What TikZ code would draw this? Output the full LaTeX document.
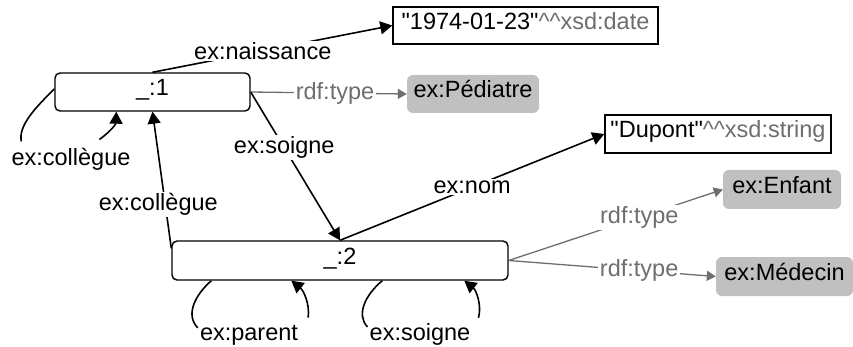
\documentclass[tikz,border=0pt]{standalone}
\usepackage{fontspec}
\newfontfamily\lsans{Liberation Sans}
\usetikzlibrary{arrows.meta,calc}
\definecolor{edgegray}{RGB}{110,110,110}
\definecolor{classfill}{RGB}{192,192,192}
\begin{document}
\begin{tikzpicture}[x=1pt,y=-1pt,
  font=\lsans\fontsize{23.5}{28}\selectfont,
  res/.style={draw, line width=1.4pt, rounded corners=5pt, fill=white, inner sep=0pt, text height=0.716em, text depth=0pt},
  lit/.style={draw, line width=1.4pt, fill=white, inner sep=0pt, text height=0.716em, text depth=0pt},
  cls/.style={fill=classfill, rounded corners=6pt, inner sep=0pt, text height=0.716em, text depth=0pt},
  elab/.style={fill=white, inner sep=1.5pt},
  glab/.style={elab, text=edgegray},
  lab/.style={inner sep=1pt, anchor=base},
  edge/.style={line width=1.6pt, -{Triangle[length=12pt,width=13pt]}},
  gedge/.style={line width=1.3pt, draw=edgegray, -{Triangle[length=9pt,width=10pt]}},
  plain/.style={line width=1.6pt}]
\useasboundingbox (0,0) rectangle (853,347);

% nodes
\node[res, minimum width=195pt, minimum height=38pt] (n1) at (152.5,92) {\_:1};
\node[res, minimum width=336pt, minimum height=39pt] (n2) at (340,260.5) {\_:2};
\node[lit, minimum width=265pt, minimum height=37pt] (date) at (525.5,25.5)
  {"1974-01-23"{\color{edgegray}\textasciicircum\textasciicircum xsd:date}};
\node[lit, minimum width=226pt, minimum height=38pt] (dup) at (718,134)
  {"Dupont"{\color{edgegray}\textasciicircum\textasciicircum xsd:string}};
\node[cls, minimum width=132pt, minimum height=38pt] (ped) at (473,94) {ex:Pédiatre};
\node[cls, minimum width=118pt, minimum height=39pt] (enf) at (782,189.5) {ex:Enfant};
\node[cls, minimum width=137pt, minimum height=39pt] (med) at (784.5,276.5) {ex:Médecin};

% loop labels
\node[lab] (lc1) at (71,166) {ex:collègue};
\node[lab] (lpar) at (249,340) {ex:parent};
\node[lab] (lsoi) at (420,340) {ex:soigne};

% edges
\draw[edge] (n1.north) -- node[elab,pos=0.46]{ex:naissance} (date.west);
\draw[gedge] (n1.east) -- node[glab,pos=0.54]{rdf:type} (ped.west);
\draw[edge] (n1.east) -- node[elab,pos=0.376]{ex:soigne} (n2.north);
\draw[edge] (n2.north) -- node[elab,pos=0.5]{ex:nom} (dup.west);
\coordinate (n2w) at ($(n2.north west)+(0,8)$);
\draw[edge] (n2w) -- node[elab,pos=0.32,xshift=-7pt]{ex:collègue} (n1.south);
\draw[gedge] (n2.east) -- node[glab,pos=0.61]{rdf:type} (enf.west);
\draw[gedge] (n2.east) -- node[glab,pos=0.63]{rdf:type} (med.west);

% loops
\draw[plain] ($(n1.west)+(0,-3)$) .. controls (35,108) and (18,126) .. ($(lc1.north west)+(11,-6)$);
\draw[edge] ($(lc1.north west)+(89,-8)$) .. controls (110,132) and (116,124) .. ($(n1.south west)+(62,0)$);

\draw[plain] ($(n2.south west)+(40,0)$) .. controls (195,295) and (185,315) .. ($(lpar.west)+(-1,-7)$);
\draw[edge] ($(lpar.north east)+(9,-6)$) .. controls (310,303) and (303,290) .. ($(n2.south west)+(120,0)$);

\draw[plain] ($(n2.south west)+(211,0)$) .. controls (365,295) and (356,315) .. ($(lsoi.west)+(-1,-7)$);
\draw[edge] ($(lsoi.north east)+(7,-4)$) .. controls (482,305) and (476,290) .. ($(n2.south west)+(293,0)$);
\end{tikzpicture}
\end{document}
